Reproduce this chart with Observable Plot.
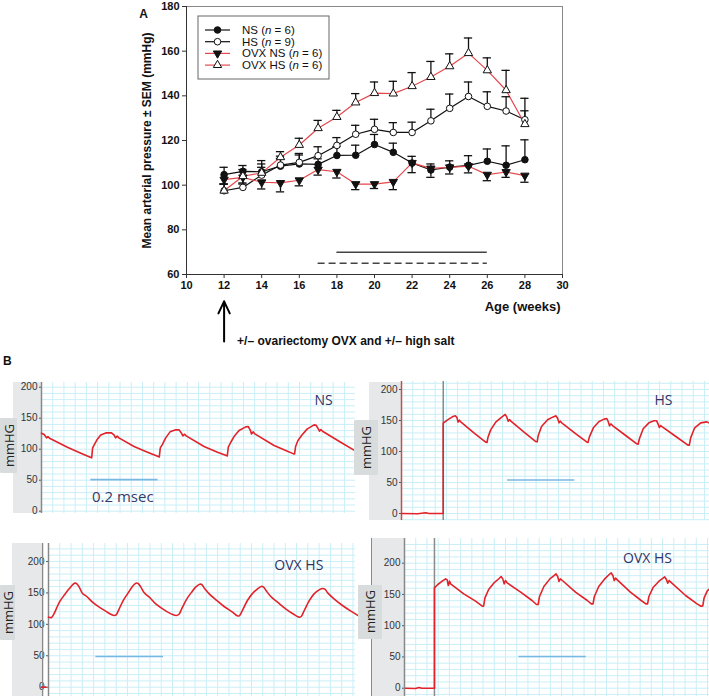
<!DOCTYPE html>
<html><head><meta charset="utf-8">
<script src="https://cdn.jsdelivr.net/npm/d3@7"></script>
<script src="https://cdn.jsdelivr.net/npm/@observablehq/plot@0.6"></script>
<style>
body{margin:0;background:#fff;}
#fig{position:relative;width:709px;height:696px;overflow:hidden;font-family:"Liberation Sans",Arial,sans-serif;}
.abs{position:absolute;}
.abs svg{overflow:visible;}
</style></head><body><div id="fig"></div>
<script>
// ---------- Panel A data ----------
const weeks = [12,13,14,15,16,17,18,19,20,21,22,23,24,25,26,27,28];
const nsMean = [104.7,106.2,106,108.5,109.5,109.3,113.3,113.4,118.2,114.7,109.9,106.8,108.1,108.9,110.7,108.9,111.4];
const nsSem = [3.3,2.6,5,3.5,4,2.5,4,4.5,4.5,4.1,3,2.7,2.8,4.3,5.5,8.7,8.9];
const hsMean = [97.5,99,104.5,109,110.2,113.2,117.8,122.8,125,123.6,123.6,128.8,134.4,139.7,135.3,133.2,129.3];
const hsSem = [3,2,3.5,4,4,4,3.5,4,4.5,4.4,4.6,5.2,6.4,6.5,6.5,6.4,4];
const ovxNsMean = [102.5,103.5,101.3,101,102.2,107,106,100.5,100.5,101.5,110,107.5,108,108.5,104.7,105.9,104.3];
const ovxNsSem = [2,3,3,4,2.5,2.5,2.8,2.5,2,3.5,4.4,4,3,3,2.7,2.4,3];
const ovxHsMean = [97.5,104,105.5,112.5,118,125.5,130.5,137,141.2,141,144.3,148.4,153.2,159.1,151.4,142.5,127.3];
const ovxHsSem = [3,3,4,2.5,3,3.5,3,4,5,5.5,6.1,7,5.6,6.8,5.6,8.9,11.6];
const seriesNames = ["NS","HS","OVX NS","OVX HS"];
const seriesN = ["6","9","6","6"];
const xTicks = [10,12,14,16,18,20,22,24,26,28,30];
const yTicks = [60,80,100,120,140,160,180];
const sigSolid = [{x1:18, x2:26, y:70}];
const sigDashed = [{x1:17, x2:26, y:65}];
const arrowData = [{week:12, from:30, to:48}];
const yLabel = "Mean arterial pressure ± SEM (mmHg)";
const xLabel = "Age (weeks)";
const annotText = "+/\u2013 ovariectomy OVX and +/\u2013 high salt";

// ---------- Panel B data (time units, mmHg) ----------
const bTicks = [0,50,100,150,200];
const nsTraceT = [0,0.008,0.015,0.019,0.024,0.077,0.117,0.145,0.149,0.152,0.157,0.166,0.176,0.191,0.208,0.216,0.220,0.225,0.230,0.275,0.315,0.347,0.350,0.353,0.359,0.369,0.382,0.399,0.409,0.416,0.420,0.425,0.430,0.483,0.523,0.549,0.552,0.555,0.562,0.572,0.587,0.607,0.614,0.620,0.624,0.629,0.634,0.691,0.731,0.749,0.752,0.755,0.762,0.775,0.790,0.810,0.816,0.822,0.826,0.830,0.835,0.889,0.931];
const nsTraceP = [125.8,123.7,118.3,120.4,117.7,103.2,93.5,87.1,86.0,102.2,107.5,116.1,123.1,126.3,126.3,122.6,118.3,121.0,118.3,104.3,95.2,88.2,87.6,102.2,107.5,118.3,128.0,131.2,131.2,125.8,121.5,124.2,121.5,104.3,95.2,89.8,89.2,103.2,110.8,120.4,130.1,136.0,136.6,131.2,124.7,128.0,124.7,105.9,96.8,92.5,92.5,104.3,114.0,123.7,132.8,139.2,138.7,133.3,129.0,131.7,129.0,111.3,97.8];
const hsTraceT = [0,0.048,0.072,0.082,0.124,0.124,0.137,0.151,0.160,0.165,0.168,0.172,0.176,0.216,0.250,0.254,0.257,0.265,0.280,0.295,0.308,0.313,0.317,0.321,0.325,0.364,0.399,0.403,0.406,0.416,0.434,0.449,0.459,0.464,0.468,0.472,0.476,0.518,0.551,0.554,0.558,0.570,0.587,0.602,0.610,0.614,0.618,0.622,0.627,0.666,0.699,0.703,0.707,0.718,0.735,0.750,0.758,0.762,0.766,0.770,0.775,0.815,0.851,0.855,0.859,0.871,0.889,0.907,0.916];
const hsTraceP = [0,-0.5,1.1,0,0,145.7,151.1,155.9,157.5,154.3,147.3,150.5,147.8,129.6,115.1,114.5,123.1,134.9,147.3,154.3,159.7,155.4,148.9,151.6,148.9,131.2,116.1,115.6,125.3,140.3,151.1,155.4,157.5,153.2,146.2,148.9,146.2,128.5,115.1,114.5,123.1,138.2,148.4,152.2,153.2,148.4,141.4,144.6,141.9,125.8,112.4,111.8,121.0,136.6,146.2,149.5,149.5,144.6,138.7,141.9,139.8,124.2,110.2,110.2,122.0,138.2,146.2,147.8,145.7];
const ovxHs1T = [0,0.009,0.015,0.023,0.034,0.048,0.061,0.071,0.078,0.084,0.092,0.100,0.113,0.130,0.150,0.169,0.187,0.194,0.200,0.209,0.222,0.235,0.248,0.258,0.265,0.273,0.283,0.298,0.317,0.342,0.367,0.378,0.385,0.396,0.409,0.423,0.435,0.447,0.453,0.462,0.475,0.495,0.519,0.544,0.558,0.564,0.573,0.588,0.602,0.617,0.629,0.635,0.643,0.657,0.677,0.701,0.726,0.741,0.747,0.756,0.770,0.785,0.800,0.811,0.817,0.826,0.844,0.869,0.894,0.920];
const ovxHs1P = [111.4,110.9,115.6,124.7,136.9,147.5,156.5,162.9,165.5,164.5,158.1,149.6,144.3,135.3,127.3,121.0,115.1,114.1,115.1,124.7,139.0,149.6,160.2,165.5,165.0,159.2,150.1,143.2,132.6,123.1,115.6,114.1,115.6,127.3,140.6,151.2,159.2,163.9,163.4,156.5,148.5,139.0,128.4,119.4,113.5,113.5,122.0,137.9,148.5,156.0,160.2,159.7,153.8,144.3,135.3,124.7,115.6,111.4,112.5,122.0,136.9,148.5,154.9,157.0,156.0,149.6,140.6,130.0,121.0,112.5];
const ovxHs1PreT = [-0.021,-0.008];
const ovxHs1PreP = [0,0];
const ovxHs2T = [0.003,0.033,0.043,0.052,0.089,0.089,0.099,0.112,0.122,0.127,0.130,0.134,0.137,0.176,0.211,0.231,0.235,0.239,0.250,0.265,0.281,0.287,0.292,0.296,0.300,0.305,0.345,0.379,0.392,0.397,0.401,0.414,0.432,0.446,0.450,0.455,0.459,0.463,0.469,0.508,0.543,0.555,0.560,0.564,0.577,0.594,0.608,0.614,0.619,0.623,0.627,0.632,0.671,0.703,0.717,0.722,0.726,0.739,0.756,0.768,0.773,0.778,0.782,0.786,0.791,0.835,0.869,0.881,0.886,0.890,0.899,0.906];
const ovxHs2P = [0,-0.5,1.1,0,0,160.5,165.9,171.2,174.9,173.3,164.3,171.2,166.9,150.9,139.2,131.2,131.2,144.5,157.9,168.0,175.5,178.7,174.9,166.9,172.3,168.5,153.6,140.3,133.9,133.9,146.7,162.7,174.9,180.8,182.9,178.7,170.7,174.9,172.3,153.6,140.3,134.9,134.9,146.7,162.7,174.4,181.9,184.5,180.3,172.3,176.0,173.3,153.6,140.3,134.9,134.9,146.7,161.6,171.2,176.0,178.1,173.9,168.0,172.3,169.6,148.3,134.9,131.2,131.7,144.5,155.2,158.9];
const traceLabels = ["NS","HS","OVX HS","OVX HS"];
const scaleBarLabel = "0.2 msec";

// ---------- build ----------
const fig = document.getElementById("fig");
const RED = "#e4484d";
const series = [
  {name:seriesNames[0], n:seriesN[0], mean:nsMean, sem:nsSem, dir:1, line:"#111", symbol:"circle", fill:"#111", rotate:0},
  {name:seriesNames[1], n:seriesN[1], mean:hsMean, sem:hsSem, dir:1, line:"#111", symbol:"circle", fill:"#fff", rotate:0},
  {name:seriesNames[2], n:seriesN[2], mean:ovxNsMean, sem:ovxNsSem, dir:-1, line:RED, symbol:"triangle", fill:"#111", rotate:180},
  {name:seriesNames[3], n:seriesN[3], mean:ovxHsMean, sem:ovxHsSem, dir:1, line:RED, symbol:"triangle", fill:"#fff", rotate:0}
];
series.forEach(s => s.rows = weeks.map((w,i) => ({week:w, mean:s.mean[i], sem:s.sem[i], dir:s.dir})));

const marksA = [
  Plot.frame({stroke:"#888"}),
  Plot.ruleX([10], {stroke:"#333"}),
  Plot.ruleY([60], {stroke:"#333"}),
  Plot.axisX(xTicks, {tickSize:4, tickPadding:3, label:null, stroke:"#333"}),
  Plot.axisY(yTicks, {tickSize:4, tickPadding:3, label:null, stroke:"#333"}),
  Plot.ruleY(sigSolid, {y:"y", x1:"x1", x2:"x2", stroke:"#444", strokeWidth:1.5}),
  Plot.ruleY(sigDashed, {y:"y", x1:"x1", x2:"x2", stroke:"#444", strokeWidth:1.5, strokeDasharray:"7,4"})
];
series.forEach(s => marksA.push(Plot.line(s.rows, {x:"week", y:"mean", stroke:s.line, strokeWidth:1.2})));
series.forEach(s => {
  marksA.push(Plot.ruleX(s.rows, {x:"week", y1:"mean", y2:d => d.mean + d.dir*d.sem, stroke:"#111", strokeWidth:1.3}));
  marksA.push(Plot.ruleY(s.rows, {y:d => d.mean + d.dir*d.sem, x1:d => d.week - 0.22, x2:d => d.week + 0.22, stroke:"#111", strokeWidth:1.3}));
});
series.forEach(s => marksA.push(Plot.dot(s.rows, {x:"week", y:"mean", symbol:s.symbol, r:s.symbol==="circle"?3.3:3.1, fill:s.fill, stroke:"#111", strokeWidth:1, rotate:s.rotate})));
marksA.push(
  Plot.arrow(arrowData, {x1:"week", x2:"week", y1:"from", y2:"to", stroke:"#000", strokeWidth:2, headLength:12, headAngle:50}),
  Plot.text(arrowData, {x:"week", y:"from", text:() => annotText, dx:13, textAnchor:"start", fontSize:12, fontWeight:"bold", fill:"#111"}),
  Plot.text([yLabel], {text:d => d, frameAnchor:"left", textAnchor:"middle", rotate:-90, dx:-39, fontSize:12, fontWeight:"bold", fill:"#111"}),
  Plot.text([xLabel], {text:d => d, frameAnchor:"bottom-right", dx:-2, dy:36, textAnchor:"end", fontSize:13, fontWeight:"bold", fill:"#111"}),
  Plot.text(["A"], {text:d => d, frameAnchor:"top-left", textAnchor:"middle", dx:-43, dy:3, fontSize:12, fontWeight:"bold", fill:"#111"})
);

const chartA = Plot.plot({
  width:709, height:350,
  marginLeft:186, marginRight:147, marginTop:6, marginBottom:76,
  x:{domain:[10,30]}, y:{domain:[60,180]},
  style:{fontFamily:'"Liberation Sans", Arial, sans-serif', fontSize:"11px", fontWeight:"bold", color:"#111", background:"transparent", overflow:"visible"},
  marks:marksA
});
const wrapA = document.createElement("div");
wrapA.className = "abs"; wrapA.style.left = "0px"; wrapA.style.top = "0px";
wrapA.appendChild(chartA); fig.appendChild(wrapA);

// legend
const lg = d3.select(chartA).append("g").attr("transform","translate(198,16)").attr("font-weight","normal").attr("text-anchor","start");
lg.append("rect").attr("width",131).attr("height",63).attr("fill","#fff").attr("stroke","#666");
series.forEach((s,i) => {
  const y = 14 + i*11.7;
  lg.append("line").attr("x1",7).attr("x2",32).attr("y1",y).attr("y2",y).attr("stroke",s.line).attr("stroke-width",1.2);
  const sym = d3.symbol(s.symbol==="circle"?d3.symbolCircle:d3.symbolTriangle, Math.PI*(s.symbol==="circle"?3.3:3.1)**2);
  lg.append("path").attr("d",sym()).attr("transform",`translate(19.5,${y}) rotate(${s.rotate})`).attr("fill",s.fill).attr("stroke","#111");
  const t = lg.append("text").attr("x",44).attr("y",y).attr("dy","0.35em").attr("text-anchor","start").attr("font-size","11.5px").attr("fill","#111");
  t.append("tspan").text(s.name + " (");
  t.append("tspan").attr("font-style","italic").text("n");
  t.append("tspan").text(" = " + s.n + ")");
});

// ---------- Panel B ----------
function addDiv(style, html){ const d = document.createElement("div"); d.className = "abs"; Object.assign(d.style, style); if (html) d.innerHTML = html; fig.appendChild(d); return d; }
addDiv({left:"3px", top:"354px", fontWeight:"bold", fontSize:"12px", color:"#111"}, "B");

const panels = [
  {left:13, top:382, width:342, height:131, ml:28, xMax:0.933, yLo:-3.7, yHi:207.6, axisColor:"#888", extra:[],
   t:nsTraceT, p:nsTraceP, pre:null, curve:"linear", bar:[0.1465,0.3465,51], label:traceLabels[0], lt:0.838, lp:178.5, barText:true,
   strip:{left:"13px", top:"382px", width:"28px", height:"131px"}, box:{left:"0px", top:"418px", width:"17px", height:"55px"}},
  {left:369, top:381, width:340, height:139, ml:32, xMax:0.915, yLo:-11.3, yHi:212.9, axisColor:"#c0504d", extra:[0.124],
   t:hsTraceT, p:hsTraceP, pre:null, curve:"linear", bar:[0.315,0.515,54], label:traceLabels[1], lt:0.778, lp:182, barText:false,
   strip:{left:"369px", top:"382px", width:"32px", height:"138px"}, box:{left:"354px", top:"420px", width:"24px", height:"55px"}},
  {left:12, top:543, width:343, height:153, ml:36, xMax:0.9075, yLo:-14.8, yHi:228.6, axisColor:"#888", extra:[-0.0177],
   t:ovxHs1T, p:ovxHs1P, pre:[ovxHs1PreT, ovxHs1PreP], curve:"catmull-rom", bar:[0.14,0.34,48.8], label:traceLabels[2], lt:0.74, lp:193.7, barText:false,
   strip:{left:"12px", top:"543px", width:"29px", height:"153px"}, box:{left:"0px", top:"585px", width:"15px", height:"55px"}},
  {left:370, top:538, width:339, height:158, ml:34, xMax:0.906, yLo:-13.3, yHi:239.5, axisColor:"#888", extra:[0.089],
   t:ovxHs2T, p:ovxHs2P, pre:null, curve:"linear", bar:[0.34,0.54,50.7], label:traceLabels[3], lt:0.722, lp:207.5, barText:false,
   strip:{left:"371px", top:"538px", width:"33px", height:"158px", borderLeft:"1.5px solid #8a8a8a", boxSizing:"border-box"}, box:{left:"358px", top:"585px", width:"24px", height:"54px"}}
];

const GRID = "#c9eff6";
panels.forEach(cfg => {
  addDiv(Object.assign({background:"#e6e8e9"}, cfg.strip));
  const pts = cfg.t.map((t,i) => ({t, p:cfg.p[i]}));
  const gx = d3.range(0, cfg.xMax, 0.2/6);
  const gy = d3.range(Math.ceil(cfg.yLo/10)*10, cfg.yHi, 10);
  const marks = [
    Plot.gridX(gx, {stroke:GRID, strokeOpacity:1, strokeWidth:1}),
    Plot.gridY(gy, {stroke:GRID, strokeOpacity:1, strokeWidth:1}),
    Plot.axisY(bTicks, {tickSize:2, tickPadding:2, label:null, fontSize:10, stroke:"#555", fill:"#333"}),
    Plot.ruleX([0], {stroke:cfg.axisColor, strokeWidth:1.5})
  ];
  cfg.extra.forEach(e => marks.push(Plot.ruleX([e], {stroke:"#8a8a8a", strokeWidth:1.5})));
  if (cfg.pre) marks.push(Plot.line(cfg.pre[0].map((t,i) => ({t, p:cfg.pre[1][i]})), {x:"t", y:"p", stroke:"#e3222a", strokeWidth:1.8}));
  marks.push(
    Plot.line(pts, {x:"t", y:"p", stroke:"#e3222a", strokeWidth:1.6, curve:cfg.curve}),
    Plot.ruleY([cfg.bar], {y:d => d[2], x1:d => d[0], x2:d => d[1], stroke:"#79b7e3", strokeWidth:1.6}),
    Plot.text([cfg.label], {text:d => d, x:() => cfg.lt, y:() => cfg.lp, fontSize:14, fontFamily:'"Open Sans", sans-serif', fill:"#2f3468"})
  );
  if (cfg.barText) marks.push(Plot.text([scaleBarLabel], {text:d => d, x:() => (cfg.bar[0]+cfg.bar[1])/2 - 0.005, y:() => 22, fontSize:15, fontFamily:'"Open Sans", sans-serif', fill:"#353a6b"}));
  const chart = Plot.plot({
    width:cfg.width, height:cfg.height,
    marginLeft:cfg.ml, marginRight:0, marginTop:0, marginBottom:0,
    x:{domain:[0, cfg.xMax], axis:null}, y:{domain:[cfg.yLo, cfg.yHi], axis:null},
    style:{fontFamily:'"Liberation Sans", Arial, sans-serif', fontSize:"10px", color:"#333", background:"transparent", overflow:"visible"},
    marks
  });
  const w = document.createElement("div");
  w.className = "abs"; w.style.left = cfg.left + "px"; w.style.top = cfg.top + "px";
  w.appendChild(chart); fig.appendChild(w);
  addDiv(Object.assign({background:"#d9dcdd", display:"flex", alignItems:"center", justifyContent:"center", borderRadius:"1px"}, cfg.box),
    '<span style="writing-mode:vertical-rl;transform:rotate(180deg);font-family:\'Open Sans\',sans-serif;font-size:13px;color:#222;">mmHG</span>');
});
</script>
</body></html>
